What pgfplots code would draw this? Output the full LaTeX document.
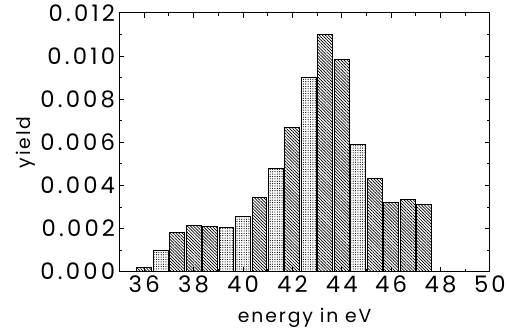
\documentclass[border=0pt]{standalone}
\usepackage{fontspec}
\setmainfont{Poppins}[LetterSpace=10]
\newfontfamily\tickfont{Poppins}[LetterSpace=14]
\usepackage{pgfplots}
\pgfplotsset{compat=1.18}
\usetikzlibrary{patterns.meta}
\begin{document}
\begin{tikzpicture}
\begin{axis}[
  scale only axis, width=375pt, height=262pt,
  xmin=35, xmax=50, ymin=0, ymax=0.012,
  xtick={36,38,...,50}, minor x tick num=1,
  ytick={0,0.002,...,0.012}, minor y tick num=1,
  scaled y ticks=false,
  tick align=inside, major tick length=5pt, minor tick length=3pt,
  axis line style={line width=1pt}, tick style={line width=0.8pt,black},
  /pgf/number format/assume math mode=true,
  y tick label style={xshift=-1pt},
  yticklabel style={/pgf/number format/.cd, fixed, fixed zerofill, precision=3},
  ticklabel style={font=\tickfont\fontsize{23}{25}\selectfont},
  x tick label style={yshift=-1pt},
  label style={font=\fontsize{19}{22}\selectfont},
  xlabel={energy in eV}, ylabel={yield},
  xlabel style={yshift=-8pt}, ylabel style={yshift=-2pt},
  every axis plot/.append style={ybar, bar width=0.6, bar shift=0pt, draw=black, line width=0.9pt},
]
\addplot[pattern={Lines[angle=-45,distance=2.2pt,line width=0.7pt]}] coordinates {
(36.00,0.00018) (37.33,0.0018) (38.00,0.00212) (38.67,0.00208) (40.67,0.00344)
(42.00,0.0067) (43.33,0.01099) (44.00,0.00982) (45.33,0.0043) (46.00,0.00319)
(46.67,0.00334) (47.33,0.00313)};
\addplot[pattern={Dots[distance=2.4pt,radius=0.6pt]}] coordinates {
(36.67,0.00096) (39.33,0.00203) (40.00,0.00257) (41.33,0.0048) (42.67,0.00902)
(44.67,0.00591)};
\coordinate (bl) at (rel axis cs:0,0);
\coordinate (tr) at (rel axis cs:1,1);
\end{axis}
\path ([shift={(-121pt,-58pt)}]bl) rectangle ([shift={(13pt,13pt)}]tr);
\end{tikzpicture}
\end{document}
